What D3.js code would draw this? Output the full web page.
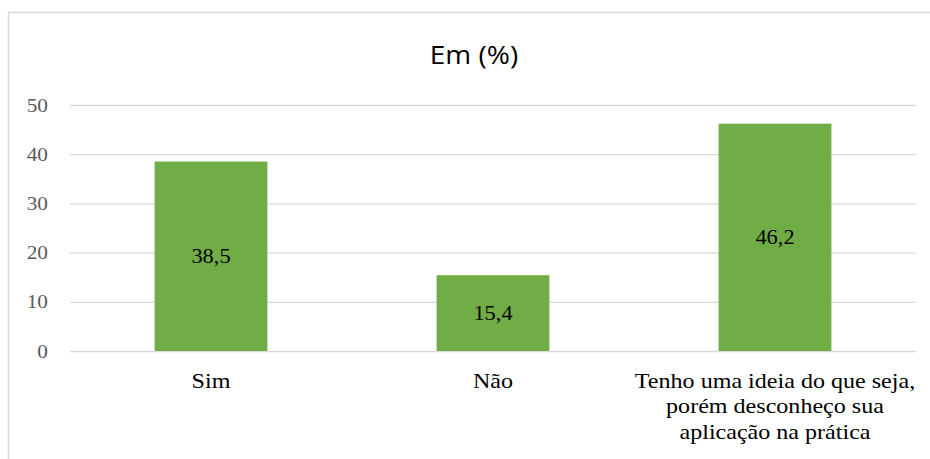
<!DOCTYPE html>
<html>
<head>
<meta charset="utf-8">
<script src="https://cdn.jsdelivr.net/npm/d3@7"></script>
<style>
    body { margin: 0; background: #fff; }
</style>
</head>
<body>
<div id="canvas"></div>
<script>
var categories = ["Sim", "Não", "Tenho uma ideia do que seja,|porém desconheço sua|aplicação na prática"];
var values = [38.5, 15.4, 46.2];
var valueLabels = ["38,5", "15,4", "46,2"];
var yTicks = [0, 10, 20, 30, 40, 50];

var serif = "Liberation Serif";
var stretch = " scale(1.12,1)";   // the picture's text is a bit wide

var W = 930, H = 459;
var margin = {top: 105, right: 14, bottom: 108, left: 70};
var width = W - margin.left - margin.right;
var height = H - margin.top - margin.bottom;

var svg = d3.select("#canvas")
            .append("svg")
                .attr("width", W)
                .attr("height", H);

// outer frame (only top and left visible in the picture)
svg.append("path")
    .attr("d", "M8.5," + H + "V12.5H" + W)
    .attr("fill", "none")
    .attr("stroke", "#d9d9d9")
    .attr("stroke-width", 1.5);

svg.append("text")
    .attr("x", 474)
    .attr("y", 64)
    .attr("text-anchor", "middle")
    .attr("font-family", "Open Sans")
    .attr("font-size", 25)
    .attr("transform", "translate(474,64)" + stretch)
    .attr("x", 0).attr("y", 0)
    .attr("fill", "#000")
    .text("Em (%)");

var g = svg.append("g")
    .attr("transform", "translate(" + margin.left + "," + margin.top + ")");

var xScale = d3.scaleBand()
    .domain(categories)
    .range([0, width])
    .paddingInner(0.6)
    .paddingOuter(0.3);

var yScale = d3.scaleLinear()
    .domain([0, 50])
    .range([height, 0]);

// gridlines + y labels
var yAxis = d3.axisLeft(yScale)
    .tickValues(yTicks)
    .tickSize(-width)
    .tickPadding(0)
    .tickFormat(d3.format("d"));

var ya = g.append("g")
    .attr("class", "y axis")
    .call(yAxis)
    .attr("font-family", serif)
    .attr("font-size", 19);
ya.select(".domain").remove();
ya.selectAll("line").attr("stroke", "#d9d9d9").attr("stroke-width", 1.3);
ya.selectAll("text")
    .attr("x", null)
    .attr("transform", "translate(-22,0)" + stretch)
    .attr("fill", "#595959");

g.selectAll("rect.bar")
    .data(values)
    .enter().append("rect")
    .attr("class", "bar")
    .attr("x", function(d, i) { return xScale(categories[i]); })
    .attr("y", function(d) { return yScale(d); })
    .attr("width", xScale.bandwidth())
    .attr("height", function(d) { return height - yScale(d); })
    .attr("fill", "#70ad47");

g.selectAll("text.val")
    .data(values)
    .enter().append("text")
    .attr("class", "val")
    .attr("transform", function(d, i) {
        return "translate(" + (xScale(categories[i]) + xScale.bandwidth() / 2) + "," +
            ((yScale(d) + height) / 2) + ")" + stretch;
    })
    .attr("dy", "0.35em")
    .attr("text-anchor", "middle")
    .attr("font-family", serif)
    .attr("font-size", 20)
    .attr("fill", "#000")
    .text(function(d, i) { return valueLabels[i]; });

// category labels (multi-line)
var xLab = g.selectAll("text.cat")
    .data(categories)
    .enter().append("text")
    .attr("class", "cat")
    .attr("transform", function(d) {
        return "translate(" + (xScale(d) + xScale.bandwidth() / 2) + "," + (height + 37) + ")" + stretch;
    })
    .attr("text-anchor", "middle")
    .attr("font-family", serif)
    .attr("font-size", 21.5)
    .attr("fill", "#000");

xLab.each(function(d) {
    var lines = d.split("|");
    var t = d3.select(this);
    lines.forEach(function(l, i) {
        t.append("tspan").attr("x", 0).attr("y", i * 25.5).text(l);
    });
});
</script>
</body>
</html>
